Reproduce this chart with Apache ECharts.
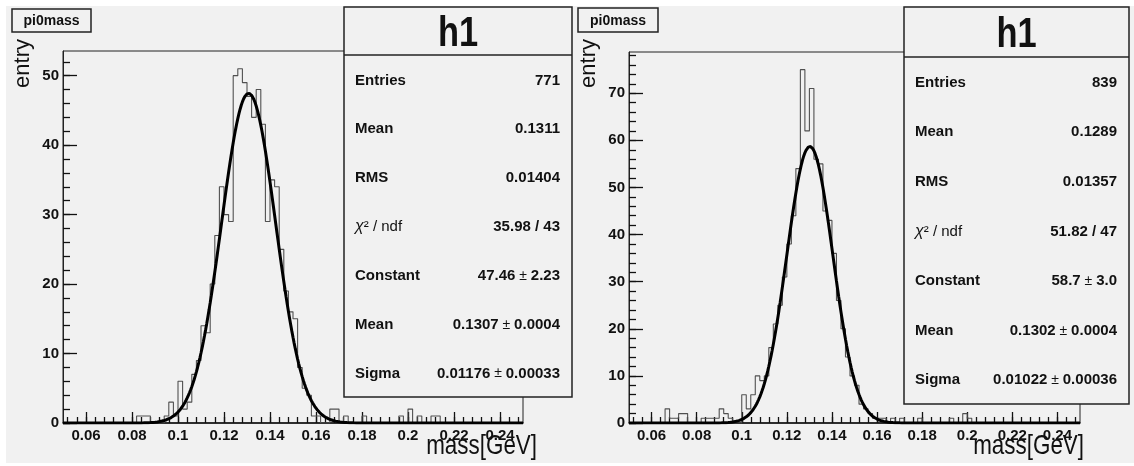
<!DOCTYPE html>
<html>
<head>
<meta charset="utf-8">
<script src="https://cdn.jsdelivr.net/npm/echarts@6/dist/echarts.min.js"></script>
<style>
html,body{margin:0;padding:0;background:#fff;}
#chart{width:1134px;height:466px;}
</style>
</head>
<body>
<div id="chart"></div>
<script>
// ---------------- data ----------------
const binLow = 0.05;
const binWidth = 0.002;
const xRange = [0.05, 0.25];

// left histogram: counts per 0.002 GeV bin from 0.05 to 0.25 (100 bins)
const countsLeft = [
  0,0,0,0,0,0,0,0,0,0,
  0,0,0,0,0,0,1,1,1,0,
  0,0,1,3,1,6,2,3,7,9,
  14,13,20,27,34,30,29,50,51,49,
  47,44,48,43,29,35,34,25,19,16,
  15,8,5,4,1,1,0,0,2,2,
  0,1,0,0,0,1,0,0,0,0,
  0,0,0,1,0,2,0,1,0,0,
  1,1,0,0,0,0,0,0,0,0,
  0,0,0,0,0,0,0,0,0,0
];
// right histogram
const countsRight = [
  0,0,0,0,0,0,0,0,3,1,
  1,2,2,0,0,0,1,1,1,1,
  3,2,1,0,0,6,3,6,10,9,
  10,16,21,25,31,38,44,54,75,62,
  71,56,55,45,43,36,26,20,14,10,
  8,4,3,2,1,1,1,0,1,0,
  1,0,0,0,1,0,0,0,0,0,
  0,1,0,0,2,1,0,0,0,0,
  0,0,0,0,0,0,0,0,0,0,
  0,0,0,0,0,0,0,0,0,0
];

// gaussian fit parameters (Constant, Mean, Sigma) as printed in the stat boxes
const fitLeft = [47.46, 0.1307, 0.01176];
const fitRight = [58.7, 0.1302, 0.01022];

const yMaxLeft = 53.55;
const yMaxRight = 78.75;

const xTickLabels = [0.06, 0.08, 0.1, 0.12, 0.14, 0.16, 0.18, 0.2, 0.22, 0.24];
const yTickLabelsLeft = [0, 10, 20, 30, 40, 50];
const yTickLabelsRight = [0, 10, 20, 30, 40, 50, 60, 70];

const statLabels = ['Entries', 'Mean', 'RMS', 'chi', 'Constant', 'Mean', 'Sigma'];
const statValuesLeft = ['771', '0.1311', '0.01404', '35.98 / 43', '47.46 ± 2.23', '0.1307 ± 0.0004', '0.01176 ± 0.00033'];
const statValuesRight = ['839', '0.1289', '0.01357', '51.82 / 47', '58.7 ± 3.0', '0.1302 ± 0.0004', '0.01022 ± 0.00036'];

const histTitle = 'pi0mass';
const statTitle = 'h1';
const xAxisTitle = 'mass[GeV]';
const yAxisTitle = 'entry';

// ---------------- helpers ----------------
const FONT = "'Liberation Sans', Arial, Helvetica, sans-serif";
const BG = '#f1f1f1';
const TICK = {color: '#111', width: 1.3};

function histData(counts) {
  return counts.map((c, i) => [+(binLow + (i + 0.5) * binWidth).toFixed(4), c]);
}
function fitCurve(p) {
  const pts = [];
  const n = 400;
  for (let i = 0; i <= n; i++) {
    const x = xRange[0] + (xRange[1] - xRange[0]) * i / n;
    pts.push([x, p[0] * Math.exp(-0.5 * Math.pow((x - p[1]) / p[2], 2))]);
  }
  return pts;
}
function range(a, b, step, dec) {
  const out = [];
  for (let v = a; v <= b + 1e-9; v += step) out.push(+v.toFixed(dec));
  return out;
}
const xMinorTicks = range(0.052, 0.248, 0.004, 3);
const yMinorLeft = range(0, 52, 2, 0);
const yMinorRight = range(0, 78, 2, 0);

const grids = [
  {left: 63, top: 51, width: 460, height: 372},
  {left: 629, top: 52, width: 451, height: 371}
];

function xAxes(gi) {
  return [
    {
      gridIndex: gi, type: 'value', position: 'bottom', min: xRange[0], max: xRange[1],
      axisLine: {show: true, onZero: false, lineStyle: {color: '#111', width: 1.5}},
      axisTick: {show: true, inside: true, length: 11, customValues: xTickLabels, lineStyle: TICK},
      axisLabel: {customValues: xTickLabels, margin: 5, color: '#111', fontFamily: FONT, fontWeight: 'bold', fontSize: 15,
        formatter: v => String(+(+v).toFixed(3))},
      splitLine: {show: false}
    },
    {
      gridIndex: gi, type: 'value', position: 'bottom', offset: 0, min: xRange[0], max: xRange[1],
      axisLine: {show: false, onZero: false},
      axisTick: {show: true, inside: true, length: 6, customValues: xMinorTicks, lineStyle: TICK},
      axisLabel: {show: false},
      splitLine: {show: false}
    }
  ];
}
function yAxes(gi, ymax, labels, minors) {
  return [
    {
      gridIndex: gi, type: 'value', position: 'left', min: 0, max: ymax,
      axisLine: {show: true, onZero: false, lineStyle: {color: '#222', width: 1}},
      axisTick: {show: true, inside: true, length: 14, customValues: labels, lineStyle: TICK},
      axisLabel: {customValues: labels, margin: 4, color: '#111', fontFamily: FONT, fontWeight: 'bold', fontSize: 15},
      splitLine: {show: false}
    },
    {
      gridIndex: gi, type: 'value', position: 'left', offset: 0, min: 0, max: ymax,
      axisLine: {show: false, onZero: false},
      axisTick: {show: true, inside: true, length: 7, customValues: minors, lineStyle: TICK},
      axisLabel: {show: false},
      splitLine: {show: false}
    }
  ];
}

function statBox(x0, y0, w, h, sepY, labels, values) {
  const els = [];
  els.push({type: 'rect', z: 100, shape: {x: x0, y: y0, width: w, height: h},
    style: {fill: BG, stroke: '#222', lineWidth: 1.5}});
  els.push({type: 'line', z: 101, shape: {x1: x0, y1: sepY, x2: x0 + w, y2: sepY},
    style: {stroke: '#222', lineWidth: 1.5}});
  els.push({type: 'text', z: 102, x: x0 + w / 2, y: (y0 + sepY) / 2 + 3, scaleX: 0.82,
    style: {text: statTitle, align: 'center', verticalAlign: 'middle', fill: '#111',
      font: 'bold 42px ' + FONT}});
  const rowH = (y0 + h - sepY) / labels.length;
  labels.forEach((lab, i) => {
    const cy = sepY + rowH * (i + 0.5) + 1;
    let labStyle;
    if (lab === 'chi') {
      labStyle = {text: '{c|χ}{n|² / ndf}', rich: {
        c: {fontFamily: FONT, fontSize: 16, fontStyle: 'italic', fill: '#111'},
        n: {fontFamily: FONT, fontSize: 15, fill: '#111'}}, align: 'left', verticalAlign: 'middle'};
    } else {
      labStyle = {text: lab, align: 'left', verticalAlign: 'middle', fill: '#111', font: 'bold 15px ' + FONT};
    }
    els.push({type: 'text', z: 102, x: x0 + 11, y: cy, style: labStyle});
    const v = values[i];
    let valStyle;
    if (v.indexOf('±') >= 0) {
      const parts = v.split('±');
      valStyle = {text: '{b|' + parts[0].trim() + '}{p| ± }{b|' + parts[1].trim() + '}', rich: {
        b: {fontFamily: FONT, fontSize: 15, fontWeight: 'bold', fill: '#111'},
        p: {fontFamily: FONT, fontSize: 14, fill: '#111'}}, align: 'right', verticalAlign: 'middle'};
    } else {
      valStyle = {text: v, align: 'right', verticalAlign: 'middle', fill: '#111', font: 'bold 15px ' + FONT};
    }
    els.push({type: 'text', z: 102, x: x0 + w - 12, y: cy, style: valStyle});
  });
  return els;
}

function titleBox(x, y, w, h) {
  return [
    {type: 'rect', z: 100, shape: {x: x, y: y, width: w, height: h}, style: {fill: BG, stroke: '#222', lineWidth: 1.5}},
    {type: 'text', z: 101, x: x + w / 2, y: y + h / 2 + 1, style: {text: histTitle, align: 'center', verticalAlign: 'middle', fill: '#111', font: 'bold 14px ' + FONT}}
  ];
}
function axisTitles(yx, yy, xx, xy) {
  return [
    {type: 'text', z: 101, x: yx, y: yy, rotation: Math.PI / 2,
      style: {text: yAxisTitle, align: 'right', verticalAlign: 'bottom', fill: '#111', font: '22px ' + FONT}},
    {type: 'text', z: 101, x: xx, y: xy, scaleX: 0.8,
      style: {text: xAxisTitle, align: 'right', verticalAlign: 'top', fill: '#111', font: '28px ' + FONT}}
  ];
}

const option = {
  backgroundColor: BG,
  animation: false,
  grid: grids.map(g => Object.assign({show: true, borderColor: '#222', borderWidth: 1, backgroundColor: 'transparent'}, g)),
  xAxis: [].concat(xAxes(0), xAxes(1)),
  yAxis: [].concat(yAxes(0, yMaxLeft, yTickLabelsLeft, yMinorLeft), yAxes(1, yMaxRight, yTickLabelsRight, yMinorRight)),
  series: [
    {type: 'line', xAxisIndex: 0, yAxisIndex: 0, step: 'middle', data: histData(countsLeft), symbol: 'none',
      lineStyle: {color: '#505050', width: 1.1}, z: 2},
    {type: 'line', xAxisIndex: 0, yAxisIndex: 0, data: fitCurve(fitLeft), symbol: 'none',
      lineStyle: {color: '#000', width: 3}, z: 3},
    {type: 'line', xAxisIndex: 2, yAxisIndex: 2, step: 'middle', data: histData(countsRight), symbol: 'none',
      lineStyle: {color: '#505050', width: 1.1}, z: 2},
    {type: 'line', xAxisIndex: 2, yAxisIndex: 2, data: fitCurve(fitRight), symbol: 'none',
      lineStyle: {color: '#000', width: 3}, z: 3}
  ],
  graphic: [].concat(
    [
      {type: 'rect', z: 90, shape: {x: 0, y: 0, width: 1134, height: 6}, style: {fill: '#fff'}},
      {type: 'rect', z: 90, shape: {x: 0, y: 463, width: 1134, height: 3}, style: {fill: '#fff'}},
      {type: 'rect', z: 90, shape: {x: 0, y: 0, width: 6, height: 466}, style: {fill: '#fff'}}
    ],
    titleBox(12, 9, 79, 23),
    titleBox(578, 8, 80, 24),
    axisTitles(34, 39, 537, 432),
    axisTitles(600, 39, 1084, 432),
    statBox(344, 7, 228, 390, 55, statLabels, statValuesLeft),
    statBox(904, 7, 225, 397, 57, statLabels, statValuesRight)
  )
};

const chart = echarts.init(document.getElementById('chart'), null, {renderer: 'canvas'});
chart.setOption(option);
</script>
</body>
</html>
